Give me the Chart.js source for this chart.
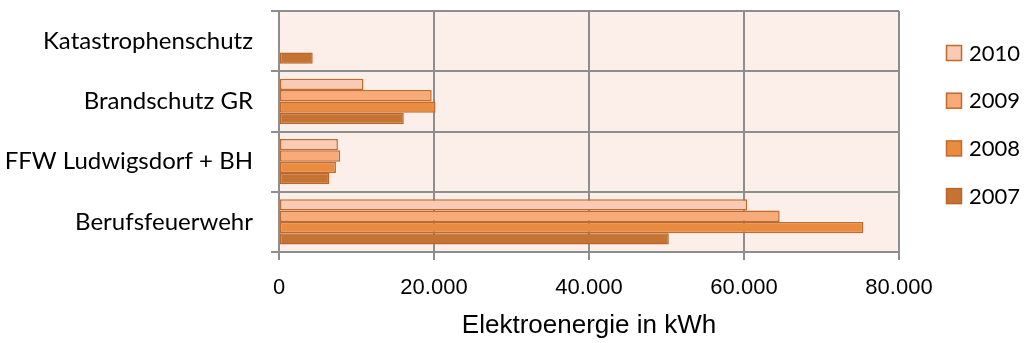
<!DOCTYPE html>
<html>
<head>
<meta charset="utf-8">
<script src="https://cdn.jsdelivr.net/npm/chart.js@4/dist/chart.umd.min.js"></script>
<style>
  html, body { margin: 0; padding: 0; background: #ffffff; }
  #wrap { width: 1029px; height: 343px; }
</style>
</head>
<body>
<div id="wrap"><canvas id="c" width="1029" height="343"></canvas></div>
<script>
// Stromverbrauch der Einrichtungen (kWh) nach Jahr
const categories = ['Katastrophenschutz', 'Brandschutz GR', 'FFW Ludwigsdorf + BH', 'Berufsfeuerwehr'];
const years = ['2010', '2009', '2008', '2007'];
const values2010 = [null, 10900, 7600, 60400];
const values2009 = [null, 19700, 7900, 64600];
const values2008 = [null, 20200, 7350, 75400];
const values2007 = [4350, 16100, 6500, 50300];
const xTickValues = [0, 20000, 40000, 60000, 80000];
const axisTitle = 'Elektroenergie in kWh';

const fills = ['#F9CBB4', '#F8AA79', '#E98C40', '#C47332'];
const borders = ['#C06A2D', '#C06A2D', '#C06A2D', '#B9652B'];
const seriesValues = [values2010, values2009, values2008, values2007];

function formatThousands(v) {
  return String(v).replace(/\B(?=(\d{3})+(?!\d))/g, '.');
}

// light background behind the plot area
const plotBackground = {
  id: 'plotBackground',
  beforeDraw(chart) {
    const { ctx, chartArea: a } = chart;
    ctx.save();
    ctx.fillStyle = '#FCEEE9';
    ctx.fillRect(a.left, a.top, a.right - a.left, a.bottom - a.top);
    ctx.restore();
  }
};

// legend column to the right of the plot
const sideLegend = {
  id: 'sideLegend',
  afterDraw(chart) {
    const ctx = chart.ctx;
    ctx.save();
    ctx.font = '22px Lato';
    ctx.textBaseline = 'middle';
    ctx.textAlign = 'left';
    chart.data.datasets.forEach((d, i) => {
      const cy = 52.5 + i * 47.7;
      ctx.fillStyle = d.backgroundColor;
      ctx.fillRect(946.5, cy - 7, 15, 15);
      ctx.strokeStyle = d.borderColor;
      ctx.lineWidth = 1.5;
      ctx.strokeRect(946.5, cy - 7, 15, 15);
      ctx.fillStyle = '#000000';
      ctx.fillText(d.label, 969, cy + 1);
    });
    ctx.restore();
  }
};

new Chart(document.getElementById('c'), {
  type: 'bar',
  data: {
    labels: categories,
    datasets: years.map((y, i) => ({
      label: y,
      data: seriesValues[i],
      backgroundColor: fills[i],
      borderColor: borders[i],
      borderWidth: 1.5,
      borderSkipped: false,
      categoryPercentage: 0.75,
      barPercentage: 1.0
    }))
  },
  options: {
    indexAxis: 'y',
    responsive: false,
    animation: false,
    devicePixelRatio: 1,
    layout: { padding: { top: 11, right: 130, bottom: 0, left: 0 } },
    plugins: {
      legend: { display: false },
      tooltip: { enabled: false }
    },
    scales: {
      x: {
        min: 0,
        max: 80000,
        afterBuildTicks(scale) {
          scale.ticks = xTickValues.map(v => ({ value: v }));
        },
        afterFit(scale) {
          scale.height = 91;
          scale.paddingLeft = 0;
          scale.paddingRight = 0;
        },
        grid: { color: '#8E8E8E', lineWidth: 2, tickLength: 8, drawTicks: true },
        border: { display: true, color: '#8E8E8E', width: 2 },
        ticks: {
          color: '#000000',
          font: { family: 'Liberation Sans, Arial, sans-serif', size: 22 },
          padding: 15,
          maxRotation: 0,
          callback: (v) => formatThousands(v)
        },
        title: {
          display: true,
          text: axisTitle,
          color: '#000000',
          font: { family: 'Liberation Sans, Arial, sans-serif', size: 26 },
          padding: { top: 0, bottom: 2 }
        }
      },
      y: {
        afterFit(scale) {
          scale.width = 279;
          scale.paddingTop = 0;
          scale.paddingBottom = 0;
        },
        grid: { color: '#8E8E8E', lineWidth: 2, tickLength: 8, offset: true },
        border: { display: true, color: '#8E8E8E', width: 2 },
        ticks: {
          color: '#000000',
          font: { family: 'Lato, sans-serif', size: 24 },
          padding: 18
        }
      }
    }
  },
  plugins: [plotBackground, sideLegend]
});
</script>
</body>
</html>
